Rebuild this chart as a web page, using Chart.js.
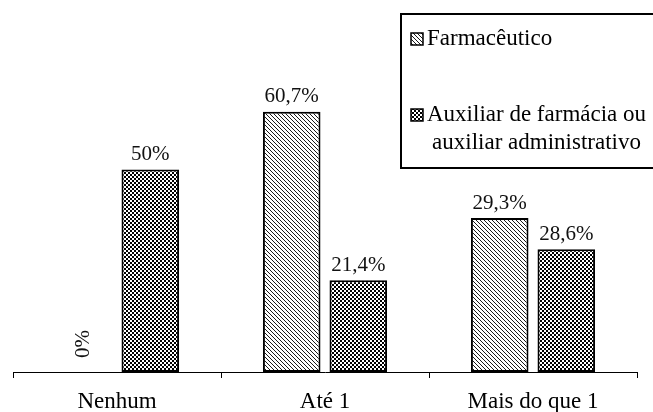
<!DOCTYPE html>
<html>
<head>
<meta charset="utf-8">
<script src="https://cdn.jsdelivr.net/npm/chart.js@4"></script>
<style>
  body { margin: 0; background: #fff; }
  #wrap { width: 653px; height: 412px; position: relative; }
</style>
</head>
<body>
<div id="wrap"><canvas id="BarChart"></canvas></div>
<script>
// data
var categories = ['Nenhum', 'Até 1', 'Mais do que 1'];
var seriesNames = ['Farmacêutico', 'Auxiliar de farmácia ou auxiliar administrativo'];
// bar heights as drawn
var farmValues = [0, 60.7, 35.9];
var auxValues = [47.2, 21.4, 28.6];
// printed labels on top of the bars
var farmLabels = ['0%', '60,7%', '29,3%'];
var auxLabels = ['50%', '21,4%', '28,6%'];

var FONT = '"Liberation Serif", "Times New Roman", serif';

function hatchPattern() {
    var c = document.createElement('canvas');
    c.width = 4; c.height = 4;
    var g = c.getContext('2d');
    g.fillStyle = '#fff';
    g.fillRect(0, 0, 4, 4);
    g.strokeStyle = '#000';
    g.lineWidth = 0.9;
    g.beginPath();
    g.moveTo(-1, -1); g.lineTo(5, 5);
    g.moveTo(-1, 3); g.lineTo(1, 5);
    g.moveTo(3, -1); g.lineTo(5, 1);
    g.stroke();
    return g.createPattern(c, 'repeat');
}

function checkerPattern() {
    var c = document.createElement('canvas');
    c.width = 4; c.height = 4;
    var g = c.getContext('2d');
    g.fillStyle = '#fff';
    g.fillRect(0, 0, 4, 4);
    g.fillStyle = '#000';
    g.fillRect(0, 0, 2, 2);
    g.fillRect(2, 2, 2, 2);
    return g.createPattern(c, 'repeat');
}

var fills = [hatchPattern(), checkerPattern()];
var valueLabels = [farmLabels, auxLabels];

// labels above the bars
var barLabels = {
    id: 'barLabels',
    afterDatasetsDraw: function(chart) {
        var ctx = chart.ctx;
        ctx.save();
        ctx.fillStyle = '#111';
        ctx.font = '21px ' + FONT;
        ctx.textAlign = 'center';
        ctx.textBaseline = 'middle';
        chart.data.datasets.forEach(function(ds, i) {
            chart.getDatasetMeta(i).data.forEach(function(bar, j) {
                var txt = valueLabels[i][j];
                if (ds.data[j] === 0) {
                    var w = ctx.measureText(txt).width;
                    ctx.save();
                    ctx.translate(bar.x, bar.y - 14 - w / 2);
                    ctx.rotate(-Math.PI / 2);
                    ctx.fillText(txt, 0, 0);
                    ctx.restore();
                } else {
                    ctx.fillText(txt, bar.x, bar.y - 15);
                }
            });
        });
        ctx.restore();
    }
};

// boxed legend at the top right
var boxLegend = {
    id: 'boxLegend',
    afterDraw: function(chart) {
        var ctx = chart.ctx;
        ctx.save();
        ctx.strokeStyle = '#000';
        ctx.lineWidth = 2;
        ctx.strokeRect(401, 14, 270, 154);

        ctx.font = '23px ' + FONT;
        ctx.fillStyle = '#000';
        ctx.textBaseline = 'middle';
        var entries = [
            { lines: ['Farmacêutico'], y: 39 },
            { lines: ['Auxiliar de farmácia ou', 'auxiliar administrativo'], y: 115 }
        ];
        entries.forEach(function(e, i) {
            ctx.fillStyle = fills[i];
            ctx.fillRect(411, e.y - 6, 12, 12);
            ctx.lineWidth = 1.5;
            ctx.strokeStyle = '#000';
            ctx.strokeRect(411, e.y - 6, 12, 12);
            ctx.fillStyle = '#000';
            var maxW = 0;
            e.lines.forEach(function(l) { maxW = Math.max(maxW, ctx.measureText(l).width); });
            ctx.textAlign = 'center';
            e.lines.forEach(function(l, k) {
                ctx.fillText(l, 427 + maxW / 2, e.y + k * 28);
            });
        });
        ctx.restore();
    }
};

var ctx = document.getElementById('BarChart').getContext('2d');
var myChart = new Chart(ctx, {
    type: 'bar',
    data: {
        labels: categories,
        datasets: [{
            label: seriesNames[0],
            data: farmValues,
            backgroundColor: fills[0],
            borderColor: '#000',
            borderWidth: 2,
            borderSkipped: false
        }, {
            label: seriesNames[1],
            data: auxValues,
            backgroundColor: fills[1],
            borderColor: '#000',
            borderWidth: 2,
            borderSkipped: false
        }]
    },
    options: {
        responsive: true,
        maintainAspectRatio: false,
        animation: false,
        events: [],
        categoryPercentage: 0.64,
        barPercentage: 0.865,
        layout: {
            padding: { top: 74, left: 13, right: 16, bottom: 0 }
        },
        plugins: {
            legend: { display: false },
            tooltip: { enabled: false }
        },
        scales: {
            x: {
                afterFit: function(scale) { scale.height = 40; },
                grid: {
                    display: true,
                    drawOnChartArea: false,
                    drawTicks: true,
                    tickLength: 6,
                    color: '#000',
                    lineWidth: 1,
                    offset: true
                },
                border: { display: true, color: '#000', width: 1 },
                ticks: {
                    color: '#000',
                    padding: 10,
                    font: { family: FONT, size: 23 }
                }
            },
            y: {
                display: false,
                min: 0,
                max: 69.5
            }
        }
    },
    plugins: [barLabels, boxLegend]
});
</script>
</body>
</html>
